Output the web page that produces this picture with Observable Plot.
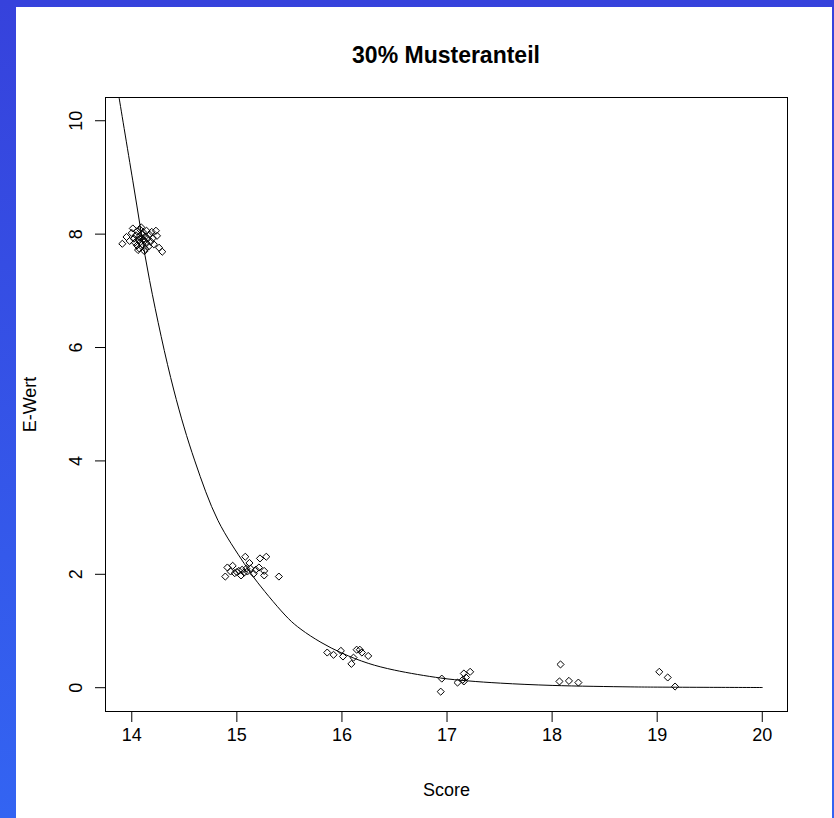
<!DOCTYPE html>
<html><head><meta charset="utf-8">
<script src="https://cdn.jsdelivr.net/npm/d3@7"></script>
<script src="https://cdn.jsdelivr.net/npm/@observablehq/plot@0.6"></script>
<style>
html,body{margin:0;padding:0;}
body{width:834px;height:818px;overflow:hidden;position:relative;background:linear-gradient(to bottom,#3642dc,#3364f2);font-family:"Liberation Sans",Arial,sans-serif;}
#panel{position:absolute;left:16px;top:7px;width:816px;height:811px;background:#fff;}
#title{position:absolute;left:0;width:892px;top:42px;text-align:center;font-weight:bold;font-size:23px;color:#000;}
#chart{position:absolute;left:0;top:0;}
</style></head>
<body>
<div id="panel"></div>
<div id="title">30% Musteranteil</div>
<div id="chart"></div>
<script>
const scoreX = [13.91,13.95,13.98,14.00,14.01,14.02,14.03,14.04,14.05,14.05,14.06,14.07,14.07,14.08,14.08,14.09,14.10,14.10,14.11,14.11,14.12,14.12,14.13,14.14,14.14,14.15,14.16,14.17,14.18,14.19,14.20,14.21,14.23,14.24,14.26,14.29,14.06,14.13,14.09,
  14.89,14.91,14.94,14.96,14.98,15.00,15.02,15.04,15.05,15.07,15.08,15.09,15.10,15.12,15.13,15.16,15.18,15.21,15.22,15.26,15.26,15.28,15.40,
  15.86,15.92,15.99,16.01,16.09,16.11,16.14,16.17,16.19,16.25,
  16.94,16.95,17.10,17.15,17.16,17.18,17.22,17.16,
  18.08,18.07,18.16,18.25,
  19.02,19.10,19.17];
const eWert = [7.83,7.95,7.88,8.02,8.10,7.92,7.85,7.98,8.05,7.80,7.90,7.95,7.75,8.08,7.86,7.93,7.99,7.82,7.90,8.03,7.70,7.88,7.96,7.84,8.06,7.92,7.78,7.99,7.87,8.04,7.93,7.82,8.06,7.97,7.76,7.69,7.72,7.74,8.12,
  1.96,2.12,2.05,2.15,2.02,2.04,2.06,1.98,2.08,2.03,2.31,2.10,2.05,2.20,2.10,2.01,2.08,2.12,2.28,2.06,1.98,2.31,1.96,
  0.62,0.58,0.65,0.55,0.42,0.53,0.67,0.67,0.62,0.56,
  -0.07,0.16,0.09,0.14,0.25,0.18,0.28,0.11,
  0.41,0.11,0.12,0.09,
  0.28,0.18,0.02];
const fitX = [13.88,14.01,14.17,14.4,14.6,14.82,15.07,15.2,15.49,15.61,15.8,16.0,16.25,16.5,16.94,17.2,17.51,18.0,18.75,19.0,19.5,20.0];
const fitY = [10.4,8.94,7.18,5.25,4.0,2.95,2.19,1.85,1.22,1.03,0.80,0.61,0.43,0.31,0.17,0.12,0.08,0.04,0.014,0.01,0.006,0.003];
const xTicks = [14,15,16,17,18,19,20];
const yTicks = [0,2,4,6,8,10];

const pts = scoreX.map((x,i)=>({x, y:eWert[i]}));
const fit = fitX.map((x,i)=>({x, y:fitY[i]}));

const chart = Plot.plot({
  width: 834, height: 818,
  marginLeft: 105, marginRight: 47, marginTop: 97, marginBottom: 107,
  style: {fontFamily: '"Liberation Sans", Arial, sans-serif', fontSize: "18px", background: "transparent", color: "#000"},
  x: {domain: [13.75, 20.24], label: "Score"},
  y: {domain: [-0.42, 10.41], label: "E-Wert"},
  marks: [
    Plot.frame({stroke: "#000", strokeWidth: 1}),
    Plot.axisX({ticks: xTicks, tickSize: 11, tickPadding: 6, tickFormat: d => String(d), fontSize: 18, label: "Score", labelAnchor: "center", labelArrow: "none", labelOffset: 84}),
    Plot.axisY({ticks: yTicks, tickSize: 10, tickFormat: () => "", label: "E-Wert", labelAnchor: "center", labelArrow: "none", labelOffset: 82, fontSize: 18}),
    Plot.text(yTicks, {y: d => d, text: d => String(d), frameAnchor: "left", dx: -29, rotate: -90, textAnchor: "middle", lineAnchor: "middle", fontSize: 18}),
    Plot.line(fit, {x: "x", y: "y", curve: "catmull-rom", stroke: "#000", strokeWidth: 1}),
    Plot.dot(pts, {x: "x", y: "y", symbol: "diamond2", r: 3.2, stroke: "#000", strokeWidth: 1, fill: "none"})
  ]
});
document.getElementById("chart").appendChild(chart);
</script>
</body></html>
